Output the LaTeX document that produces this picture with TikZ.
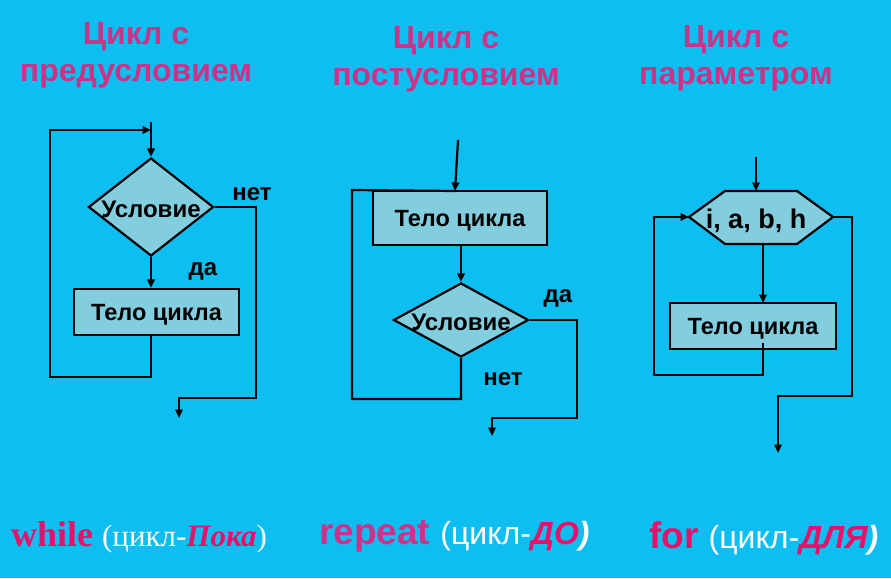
\documentclass[tikz,border=0pt]{standalone}
\usepackage{fontspec}
\setmainfont{Liberation Sans}
\newfontfamily\seriffont{Liberation Serif}
\usetikzlibrary{arrows.meta,shapes.geometric}
\definecolor{bgc}{RGB}{14,190,240}
\definecolor{shapefill}{RGB}{130,206,222}
\definecolor{titlec}{RGB}{204,51,136}
\definecolor{pinkc}{RGB}{232,16,104}
\begin{document}
\begin{tikzpicture}[x=1pt,y=-1pt,
  line width=2.2pt,
  >={Triangle[length=8.5pt,width=7.5pt]},
  box/.style={draw=black,fill=shapefill,line width=2.2pt,minimum width=166pt,minimum height=46pt,inner sep=0pt,text depth=0pt,font=\fontsize{23.5}{26}\selectfont\bfseries},
  dia/.style={draw=black,fill=shapefill,line width=2.2pt,shape=diamond,inner sep=0pt},
  lbl/.style={font=\fontsize{24}{26}\selectfont\bfseries,inner sep=0pt},
  ttl/.style={font=\fontsize{32}{37}\selectfont\bfseries,text=titlec,align=center,inner sep=0pt}]
\fill[bgc] (0,0) rectangle (891,578);
\useasboundingbox (0,0) rectangle (891,578);

% titles
\node[ttl] (t1) at (136,55) {Цикл с\\предусловием};
\node[ttl] (t2) at (446,59) {Цикл с\\постусловием};
\node[ttl] (t3) at (736,58) {Цикл с\\параметром};

% column 1
\node[dia,minimum width=125pt,minimum height=98pt] (d1) at (151,207) {};
\node[lbl,text depth=0pt] (d1t) at (151,209) {Условие};
\node[box,minimum width=165pt] (b1) at (156.5,312) {Тело цикла};
\coordinate (c1in) at (151,122);
\coordinate (c1j) at (151,130);
\coordinate (c1out) at (179,418);
\draw[->] (c1in) -- (d1.north);
\draw[->] (d1.south) -- (d1.south |- b1.north);
\draw[->] (d1.south |- b1.south) -- (151,377) -- (50,377) -- (50,130) -- (c1j);
\draw[->] (d1.east) -- (256,207) -- (256,398) -- (179,398) -- (c1out);
\node[lbl] (n1) at (252,194) {нет};
\node[lbl] (y1) at (203,271) {да};

% column 2
\node[box,minimum width=174pt,minimum height=54pt] (b2) at (460,218) {Тело цикла};
\node[dia,minimum width=135pt,minimum height=74pt] (d2) at (461,320) {};
\node[lbl,text depth=0pt] (d2t) at (461,322) {Условие};
\coordinate (c2in) at (458,140);
\coordinate (c2j) at (455,191);
\coordinate (c2out) at (492,436);
\draw[->] (c2in) -- (c2j);
\draw[->] (b2.south -| d2.north) -- (d2.north);
\draw (d2.south) -- (461,399) -- (352,399) -- (352,190) -- (c2j);
\draw[->] (d2.east) -- (577,320) -- (577,418) -- (492,418) -- (c2out);
\node[lbl] (y2) at (558,298) {да};
\node[lbl] (n2) at (503,379) {нет};

% column 3
\coordinate (hl) at (689,217);
\coordinate (hr) at (833,217);
\draw[fill=shapefill] (hl) -- (725,191) -- (797,191) -- (hr) -- (797,244) -- (725,244) -- cycle;
\node[font=\fontsize{27}{29}\selectfont\bfseries,inner sep=0pt] (h3) at (756,221) {i, a, b, h};
\node[box] (b3) at (753,326) {Тело цикла};
\coordinate (c3in) at (756,157);
\coordinate (c3ht) at (756,191);
\coordinate (c3hb) at (763,244);
\coordinate (c3bt) at (763,303);
\coordinate (c3bb) at (763,343);
\coordinate (c3out) at (778,453);
\draw[->] (c3in) -- (c3ht);
\draw[->] (c3hb) -- (c3bt);
\draw[->] (c3bb) -- (763,375) -- (654,375) -- (654,217) -- (hl);
\draw[->] (hr) -- (852,217) -- (852,396) -- (778,396) -- (c3out);

% bottom captions
\node[anchor=base west,inner sep=0pt] (w) at (10,546) {\seriffont\fontsize{36}{38}\selectfont\bfseries\color{pinkc}while\ \fontsize{31}{33}\selectfont\mdseries\color{white}(цикл-\bfseries\itshape\color{pinkc}Пока\mdseries\upshape\color{white})};
\node[anchor=base west,inner sep=0pt] (r) at (318,544) {\fontsize{37}{39}\selectfont\bfseries\color{titlec}repeat \mdseries\fontsize{32}{34}\selectfont\color{white}(цикл-\bfseries\itshape\color{pinkc}ДО\color{white})};
\node[anchor=base west,inner sep=0pt] (f) at (648,548) {\fontsize{37}{39}\selectfont\bfseries\color{pinkc}for \mdseries\fontsize{32}{34}\selectfont\color{white}(цикл-\bfseries\itshape\color{pinkc}ДЛЯ\color{white})};
\end{tikzpicture}
\end{document}
